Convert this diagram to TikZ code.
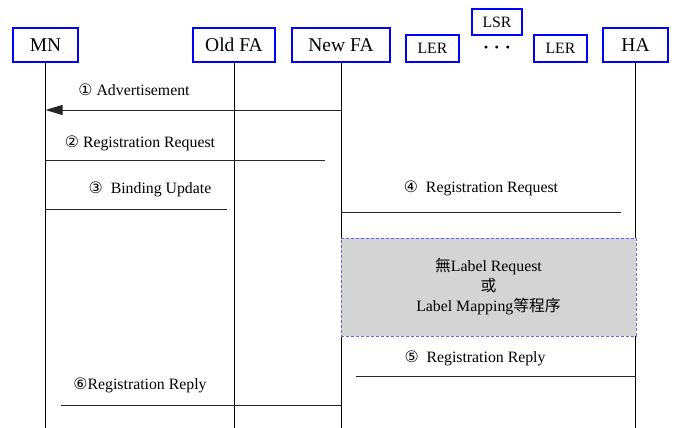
\documentclass[tikz,border=0pt]{standalone}
\usepackage{fontspec}
\setmainfont{Liberation Serif}
\newfontfamily\seriffont{Liberation Serif}
\newfontfamily\cjkfont{Noto Sans CJK TC}
\newfontfamily\circfont{DejaVu Sans}
\usetikzlibrary{arrows.meta}
\newcommand{\stepno}[1]{{\circfont #1}}

\tikzset{
  entity/.style={draw=blue, line width=1.2pt, minimum height=34pt, inner sep=0pt, font=\seriffont\fontsize{19.5}{22}\selectfont},
  router/.style={draw=blue, line width=1.2pt, minimum width=53pt, minimum height=27pt, inner sep=0pt, font=\seriffont\fontsize{15.8}{18}\selectfont},
  lifeline/.style={line width=1pt},
  msg/.style={line width=1pt, black!85},
  msglabel/.style={font=\seriffont\fontsize{15.8}{18}\selectfont, inner sep=0pt},
  procbox/.style={fill=black!17, draw=blue!60!white, dash pattern=on 3pt off 2pt, line width=0.7pt, align=center, inner sep=0pt, font=\seriffont\fontsize{15.8}{20}\selectfont},
}

\begin{document}
\begin{tikzpicture}[x=1pt,y=-1pt]
  \useasboundingbox (0,0) rectangle (675,428);
  % entities
  \node[entity, minimum width=65pt] (mn) at (45.5,45) {MN};
  \node[entity, minimum width=82pt] (oldfa) at (234,45) {Old FA};
  \node[entity, minimum width=98pt] (newfa) at (341,45) {New FA};
  \node[router] (ler1) at (432.5,48.5) {LER};
  \node[router, minimum width=50pt, minimum height=26pt] (lsr) at (497,22) {LSR};
  \node[msglabel, font=\seriffont\bfseries\fontsize{18}{20}\selectfont] (dots) at (497,50) {·\hspace{5pt}·\hspace{5pt}·};
  \node[router] (ler2) at (560.5,48.5) {LER};
  \node[entity, minimum width=65pt] (ha) at (635.5,45) {HA};

  \foreach \n in {mn,oldfa,newfa,ha} {
    \coordinate (\n-end) at (\n.south |- 0,428);
    \draw[lifeline] (\n.south) -- (\n-end);
  }

  % messages
  \draw[msg, -{Triangle[length=17pt,width=10pt]}] (newfa |- 0,110) -- (mn |- 0,110);
  \node[msglabel] (l1) at (134,90) {\stepno{①} Advertisement};

  \coordinate (m2) at (325,160);
  \draw[msg] (mn |- m2) -- (m2);
  \node[msglabel] (l2) at (140,143) {\stepno{②} Registration Request};

  \coordinate (m3) at (227,209);
  \draw[msg] (mn |- m3) -- (m3);
  \node[msglabel] (l3) at (150,189) {\stepno{③}\ \ Binding Update};

  \coordinate (m4) at (621,212);
  \draw[msg] (newfa |- m4) -- (m4);
  \node[msglabel] (l4) at (481,188) {\stepno{④}\ \ Registration Request};

  \node[procbox, minimum width=295pt, minimum height=98pt] (proc) at (488.5,287)
    {{\cjkfont 無}Label Request\\{\cjkfont 或}\\Label Mapping{\cjkfont 等程序}};

  \coordinate (m5) at (356,376);
  \draw[msg] (m5) -- (ha |- m5);
  \node[msglabel] (l5) at (475,358) {\stepno{⑤}\ \ Registration Reply};

  \coordinate (m6) at (61,405);
  \draw[msg] (m6) -- (newfa |- m6);
  \node[msglabel] (l6) at (140,385) {\stepno{⑥}Registration Reply};
\end{tikzpicture}
\end{document}
